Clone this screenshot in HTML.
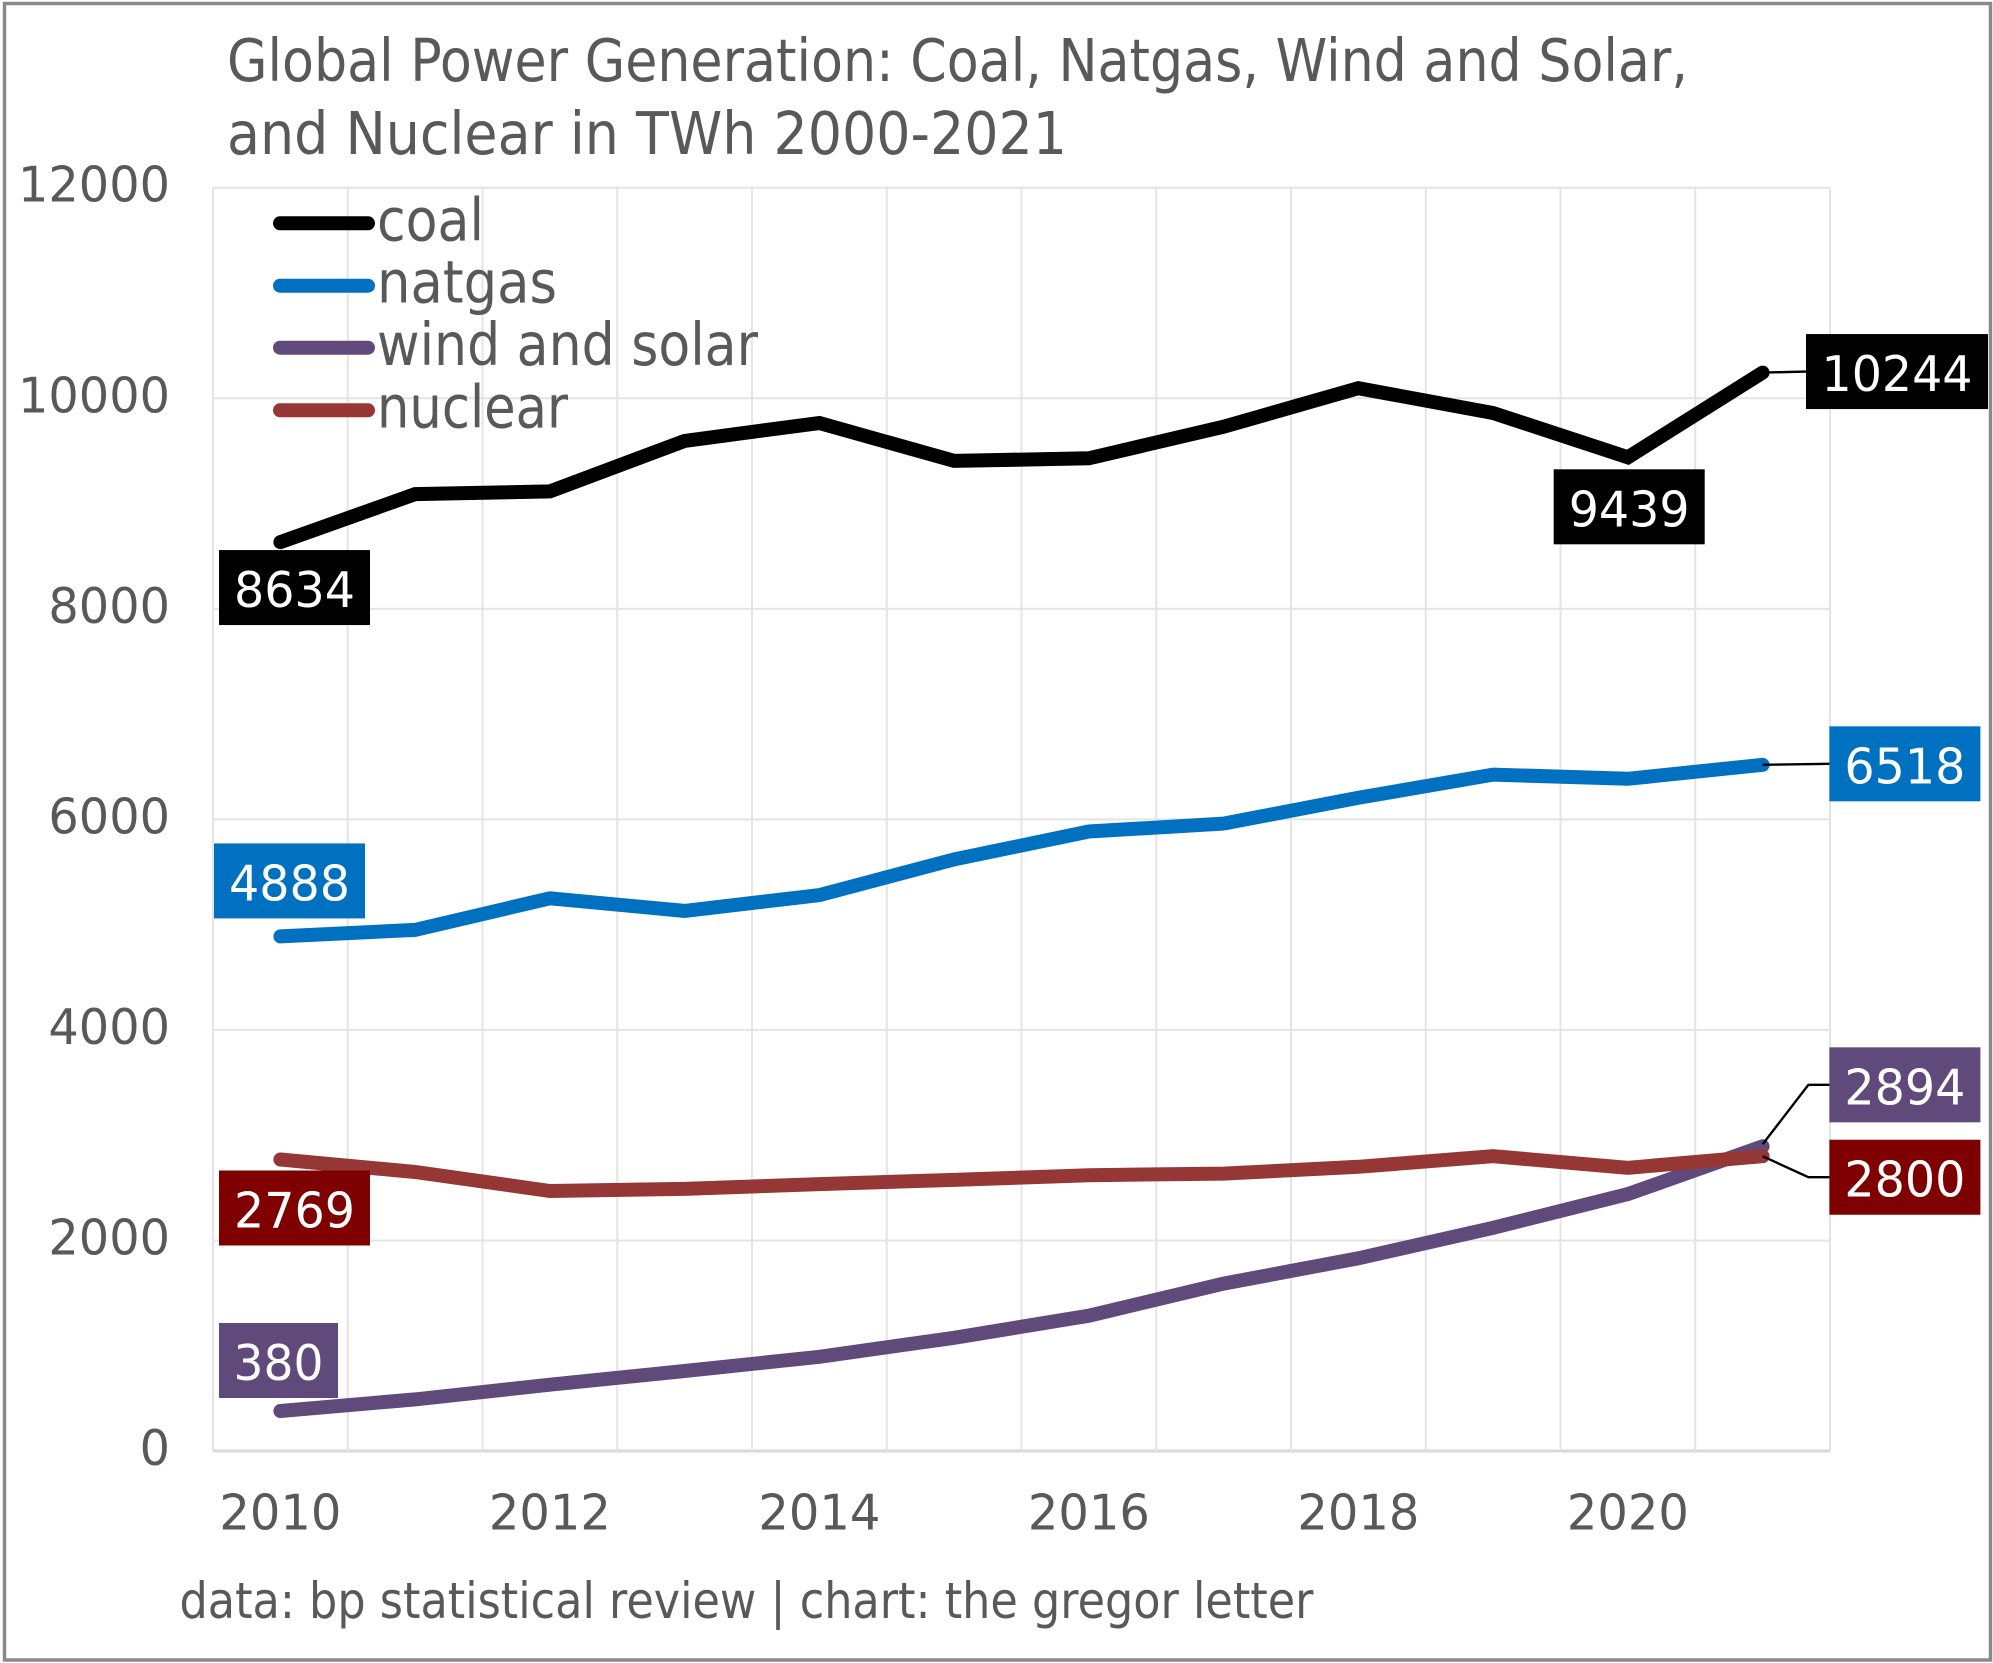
<!DOCTYPE html>
<html lang="en">
<head>
<meta charset="utf-8">
<title>Global Power Generation</title>
<style>
  html, body { margin: 0; padding: 0; background: #fff; }
  svg { display: block; }
  text { font-family: "DejaVu Sans", "Liberation Sans", sans-serif; }
</style>
</head>
<body>
<svg id="chart" width="1993" height="1663" viewBox="0 0 1993 1663" xmlns="http://www.w3.org/2000/svg">
  <rect x="0" y="0" width="1993" height="1663" fill="#ffffff"/>
  <rect x="4.5" y="3.5" width="1986" height="1656.5" fill="none" stroke="#8a8a8a" stroke-width="3.5"/>
  <g fill="#595959" font-size="59">
    <text x="227" y="81" textLength="1461" lengthAdjust="spacingAndGlyphs">Global Power Generation: Coal, Natgas, Wind and Solar,</text>
    <text x="227" y="154" textLength="840" lengthAdjust="spacingAndGlyphs">and Nuclear in TWh 2000-2021</text>
  </g>
  <g id="grid"></g>
  <g id="y-axis"></g>
  <g id="x-axis"></g>
  <g id="series"></g>
  <g id="leaders"></g>
  <g id="labels"></g>
  <g font-size="59" fill="#595959">
    <g>
      <line x1="280" y1="223.3" x2="368" y2="223.3" stroke="#000000" stroke-width="14" stroke-linecap="round"/>
      <text x="377" y="240.7" textLength="107" lengthAdjust="spacingAndGlyphs">coal</text>
    </g>
    <g>
      <line x1="280" y1="285.7" x2="368" y2="285.7" stroke="#0070C0" stroke-width="14" stroke-linecap="round"/>
      <text x="377" y="302.7" textLength="180" lengthAdjust="spacingAndGlyphs">natgas</text>
    </g>
    <g>
      <line x1="280" y1="347.7" x2="368" y2="347.7" stroke="#604A7B" stroke-width="14" stroke-linecap="round"/>
      <text x="377" y="365" textLength="381" lengthAdjust="spacingAndGlyphs">wind and solar</text>
    </g>
    <g>
      <line x1="280" y1="410.3" x2="368" y2="410.3" stroke="#953735" stroke-width="14" stroke-linecap="round"/>
      <text x="377" y="427.7" textLength="191" lengthAdjust="spacingAndGlyphs">nuclear</text>
    </g>
  </g>
  <text x="179.5" y="1618" font-size="50" fill="#595959" textLength="1134" lengthAdjust="spacingAndGlyphs">data: bp statistical review | chart: the gregor letter</text>
</svg>
<script>
const years = [2010, 2011, 2012, 2013, 2014, 2015, 2016, 2017, 2018, 2019, 2020, 2021];
const yTickValues = [0, 2000, 4000, 6000, 8000, 10000, 12000];
const coal = [8634, 9090, 9115, 9595, 9765, 9405, 9430, 9730, 10095, 9860, 9439, 10244];
const natgas = [4888, 4950, 5250, 5130, 5280, 5620, 5885, 5960, 6205, 6425, 6385, 6518];
const windSolar = [380, 490, 630, 760, 895, 1075, 1285, 1590, 1830, 2120, 2440, 2894];
const nuclear = [2769, 2650, 2470, 2490, 2535, 2575, 2620, 2635, 2700, 2800, 2690, 2800];

const SVGNS = 'http://www.w3.org/2000/svg';
const plotLeft = 213, plotRight = 1830, plotTop = 187.7, plotBottom = 1451;
const yMax = 12000;
const boxHeight = 75;
const labelTextWidths = { 3: 90, 4: 121, 5: 151 };
const labelBoxWidths = { 3: 119, 4: 151, 5: 182 };

function xScale(i) {
  return plotLeft + (i + 0.5) * (plotRight - plotLeft) / years.length;
}
function yScale(v) {
  return plotBottom - v * (plotBottom - plotTop) / yMax;
}
function make(tag, attrs, parent) {
  const el = document.createElementNS(SVGNS, tag);
  for (const k in attrs) el.setAttribute(k, attrs[k]);
  parent.appendChild(el);
  return el;
}

/* gridlines */
const grid = document.getElementById('grid');
yTickValues.forEach(function (v) {
  const el = make('line', {
    x1: plotLeft, x2: plotRight, y1: yScale(v), y2: yScale(v),
    stroke: v === 0 ? '#d9d9d9' : '#e4e4e4',
    'stroke-width': v === 0 ? 3 : 2
  }, grid);
  
  
});
for (let i = 0; i <= years.length; i++) {
  const gx = plotLeft + i * (plotRight - plotLeft) / years.length;
  const el = make('line', {
    x1: gx, x2: gx, y1: plotTop, y2: plotBottom,
    stroke: '#e4e4e4', 'stroke-width': 2
  }, grid);
  
  
}

/* y axis */
const yAxis = document.getElementById('y-axis');
yTickValues.forEach(function (v) {
  const s = String(v);
  const el = make('text', {
    x: 170, y: yScale(v) + 14, 'text-anchor': 'end',
    'font-size': 49, fill: '#595959',
    textLength: s.length * 30.4, lengthAdjust: 'spacingAndGlyphs'
  }, yAxis);
  el.textContent = s;
  
  
});

/* x axis */
const xAxis = document.getElementById('x-axis');
years.forEach(function (yr, i) {
  if (i % 2 !== 0) return;
  const el = make('text', {
    x: xScale(i), y: 1529.7, 'text-anchor': 'middle',
    'font-size': 49, fill: '#595959',
    textLength: 122, lengthAdjust: 'spacingAndGlyphs'
  }, xAxis);
  el.textContent = String(yr);
  
  
});

/* series lines */
const seriesGroup = document.getElementById('series');
function drawLine(values, color, name) {
  const pts = values.map(function (v, i) {
    return xScale(i).toFixed(1) + ',' + yScale(v).toFixed(1);
  }).join(' ');
  const el = make('polyline', {
    points: pts, fill: 'none', stroke: color,
    'stroke-width': 14, 'stroke-linecap': 'round', 'stroke-linejoin': 'miter'
  }, seriesGroup);
  
  
}
drawLine(coal, '#000000', 'line-coal');
drawLine(natgas, '#0070C0', 'line-natgas');
drawLine(windSolar, '#604A7B', 'line-wind-and-solar');
drawLine(nuclear, '#953735', 'line-nuclear');

/* data labels */
const labelGroup = document.getElementById('labels');
function drawLabel(value, boxLeft, boxTop, color, name) {
  const s = String(value);
  const textW = labelTextWidths[s.length] || s.length * 30;
  const boxW = labelBoxWidths[s.length] || s.length * 30 + 31;
  const r = make('rect', {
    x: boxLeft, y: boxTop, width: boxW, height: boxHeight, fill: color
  }, labelGroup);
  
  
  const t = make('text', {
    x: boxLeft + boxW / 2, y: boxTop + 57, 'text-anchor': 'middle',
    'font-size': 49, fill: '#ffffff',
    textLength: textW, lengthAdjust: 'spacingAndGlyphs'
  }, labelGroup);
  t.textContent = s;
  
  
}

/* leader lines */
const leaderGroup = document.getElementById('leaders');
function drawLeader(points, name) {
  const el = make('polyline', {
    points: points.map(function (p) { return p[0].toFixed(1) + ',' + p[1].toFixed(1); }).join(' '),
    fill: 'none', stroke: '#000000', 'stroke-width': 2.4
  }, leaderGroup);
  
  
}

const last = years.length - 1;
const edgeBox = plotRight - 0.6;

drawLabel(coal[0], 219, yScale(coal[0]) + 8, '#000000', 'label-coal-2010');
drawLabel(natgas[0], 214, yScale(natgas[0]) - 93, '#0070C0', 'label-natgas-2010');
drawLabel(nuclear[0], 219, yScale(nuclear[0]) + 11, '#7F0000', 'label-nuclear-2010');
drawLabel(windSolar[0], 219, yScale(windSolar[0]) - 88, '#604A7B', 'label-wind-and-solar-2010');
drawLabel(coal[10], 1553.7, yScale(coal[10]) + 12, '#000000', 'label-coal-2020');

const coalBoxTop = yScale(coal[last]) - 38.5;
const natgasBoxTop = yScale(natgas[last]) - 38.5;
const windBoxTop = yScale(windSolar[last]) - 99;
const nuclearBoxTop = yScale(nuclear[last]) - 16.5;

drawLeader([[xScale(last), yScale(coal[last])], [1806, coalBoxTop + boxHeight / 2]], 'leader-coal-2021');
drawLeader([[xScale(last), yScale(natgas[last])], [edgeBox, natgasBoxTop + boxHeight / 2]], 'leader-natgas-2021');
drawLeader([[xScale(last), yScale(windSolar[last]) - 2], [1808.4, windBoxTop + boxHeight / 2], [edgeBox, windBoxTop + boxHeight / 2]], 'leader-wind-and-solar-2021');
drawLeader([[xScale(last), yScale(nuclear[last])], [1808.4, nuclearBoxTop + boxHeight / 2], [edgeBox, nuclearBoxTop + boxHeight / 2]], 'leader-nuclear-2021');

drawLabel(coal[last], 1806, coalBoxTop, '#000000', 'label-coal-2021');
drawLabel(natgas[last], edgeBox, natgasBoxTop, '#0070C0', 'label-natgas-2021');
drawLabel(windSolar[last], edgeBox, windBoxTop, '#604A7B', 'label-wind-and-solar-2021');
drawLabel(nuclear[last], edgeBox, nuclearBoxTop, '#7F0000', 'label-nuclear-2021');
</script>
</body>
</html>
